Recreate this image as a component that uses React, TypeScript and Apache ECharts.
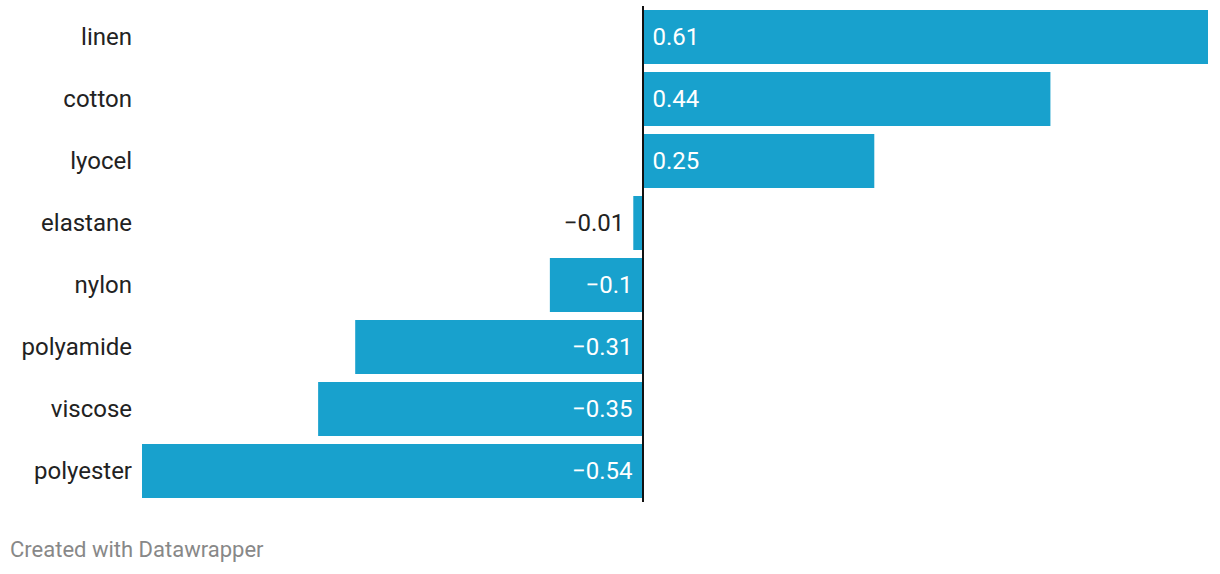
import React, { useEffect, useRef } from "react";
import * as echarts from "echarts";

const categories = ["linen", "cotton", "lyocel", "elastane", "nylon", "polyamide", "viscose", "polyester"];
const values = [0.61, 0.44, 0.25, -0.01, -0.1, -0.31, -0.35, -0.54];
const footer = "Created with Datawrapper";

const fmt = (v: number) => (v < 0 ? "\u2212" + String(Math.abs(v)) : String(v));

export default function App() {
  const ref = useRef<HTMLDivElement>(null);
  useEffect(() => {
    if (!ref.current) return;
    const chart = echarts.init(ref.current, null, { renderer: "svg" });
    const data = values.map((v) => {
      let label: any;
      if (v >= 0) {
        label = { show: true, position: "insideLeft", distance: 10, color: "#ffffff" };
      } else if (v > -0.05) {
        label = { show: true, position: "left", distance: 9, color: "#222222" };
      } else {
        label = { show: true, position: "insideRight", distance: 10, color: "#ffffff" };
      }
      return { value: v, label };
    });
    chart.setOption({
      animation: false,
      grid: { left: 142, right: 12, top: 6, bottom: 72, containLabel: false },
      xAxis: {
        type: "value",
        min: -0.54,
        max: 0.61,
        show: false,
      },
      yAxis: {
        type: "category",
        data: categories,
        inverse: true,
        axisLine: { show: false },
        axisTick: { show: false },
        splitLine: { show: false },
        axisLabel: {
          margin: 10,
          fontFamily: "Roboto",
          fontSize: 24,
          color: "#222222",
        },
      },
      series: [
        {
          type: "bar",
          data,
          barWidth: 54,
          itemStyle: { color: "#18a1cd" },
          label: {
            fontFamily: "Roboto",
            fontSize: 24,
            formatter: (p: any) => fmt(p.value),
          },
          markLine: {
            silent: true,
            symbol: ["none", "none"],
            label: { show: false },
            lineStyle: { color: "#111111", width: 2, type: "solid" },
            data: [{ xAxis: 0 }],
          },
        },
      ],
      graphic: [
        {
          type: "text",
          left: 10,
          top: 538,
          style: {
            text: footer,
            fontFamily: "Roboto",
            fontSize: 22,
            fill: "#888888",
          },
        },
      ],
    });
    return () => chart.dispose();
  }, []);
  return <div ref={ref} style={{ width: 1220, height: 574, position: "absolute", left: 0, top: 0 }} />;
}
